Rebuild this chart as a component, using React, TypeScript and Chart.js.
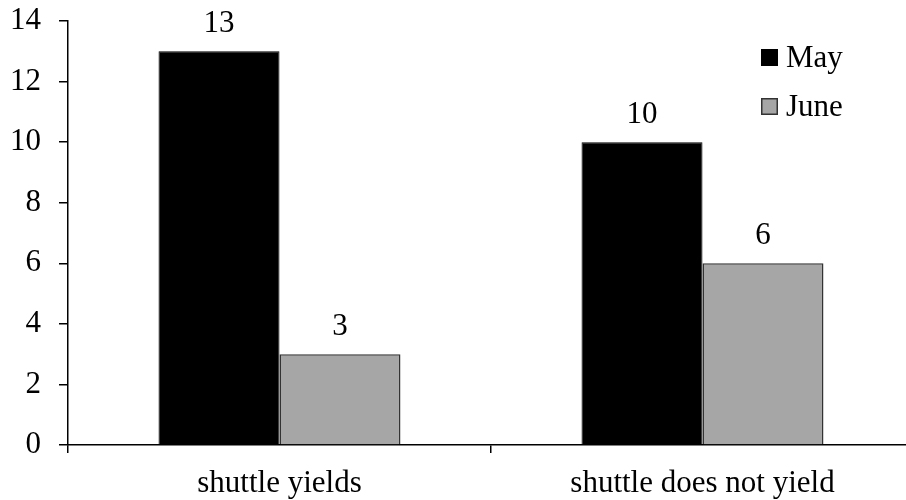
import React, { useEffect, useRef } from "react";
import { Chart, registerables } from "chart.js";

Chart.register(...registerables);

const categories = ["shuttle yields", "shuttle does not yield"];
const seriesNames = ["May", "June"];
const mayValues = [13, 10];
const juneValues = [3, 6];
const yMin = 0;
const yMax = 14;
const yStep = 2;

const FONT = '"Liberation Serif", "Times New Roman", serif';
const FONT_SIZE = 31;

const valueLabels = {
  id: "valueLabels",
  afterDatasetsDraw(chart: any) {
    const ctx = chart.ctx;
    ctx.save();
    ctx.font = `${FONT_SIZE}px ${FONT}`;
    ctx.fillStyle = "#000";
    ctx.textAlign = "center";
    ctx.textBaseline = "alphabetic";
    chart.data.datasets.forEach((ds: any, i: number) => {
      const meta = chart.getDatasetMeta(i);
      meta.data.forEach((el: any, j: number) => {
        ctx.fillText(String(ds.data[j]), el.x, el.y - 19);
      });
    });
    ctx.restore();
  },
};

const insideLegend = {
  id: "insideLegend",
  afterDraw(chart: any) {
    const ctx = chart.ctx;
    const boxX = 761;
    const boxY0 = 49;
    const box = 17;
    const gap = 49;
    ctx.save();
    ctx.font = `${FONT_SIZE}px ${FONT}`;
    ctx.textAlign = "left";
    ctx.textBaseline = "middle";
    chart.data.datasets.forEach((ds: any, i: number) => {
      const y = boxY0 + i * gap;
      ctx.fillStyle = ds.backgroundColor;
      ctx.fillRect(boxX, y, box, box);
      ctx.lineWidth = 1.5;
      ctx.strokeStyle = ds.borderColor;
      ctx.strokeRect(boxX + 0.75, y + 0.75, box - 1.5, box - 1.5);
      ctx.fillStyle = "#000";
      ctx.fillText(ds.label, boxX + 25, y + box / 2 + 1);
    });
    ctx.restore();
  },
};

export default function App() {
  const ref = useRef<HTMLCanvasElement | null>(null);

  useEffect(() => {
    document.body.style.margin = "0";
    document.body.style.overflow = "hidden";
    if (!ref.current) return;
    const chart = new Chart(ref.current, {
      type: "bar",
      data: {
        labels: categories,
        datasets: [
          {
            label: seriesNames[0],
            data: mayValues,
            backgroundColor: "#000000",
            borderColor: "#000000",
            borderWidth: 1,
          },
          {
            label: seriesNames[1],
            data: juneValues,
            backgroundColor: "#a6a6a6",
            borderColor: "#333333",
            borderWidth: 1.5,
          },
        ],
      },
      options: {
        responsive: false,
        animation: false,
        devicePixelRatio: 1,
        layout: { padding: { top: 21, right: 16, bottom: 0, left: 0 } },
        datasets: {
          bar: { categoryPercentage: 0.572, barPercentage: 1 },
        },
        plugins: {
          legend: { display: false },
          tooltip: { enabled: false },
        },
        scales: {
          x: {
            offset: true,
            afterFit(scale: any) {
              scale.height = 55;
              scale.paddingLeft = 0;
              scale.paddingRight = 0;
            },
            grid: {
              offset: true,
              drawOnChartArea: false,
              drawTicks: true,
              tickLength: 8,
              color: "#000",
              lineWidth: 1.5,
            },
            border: { display: true, color: "#000", width: 1.5 },
            ticks: {
              color: "#000",
              padding: 12,
              font: { family: FONT, size: FONT_SIZE },
              maxRotation: 0,
            },
          },
          y: {
            min: yMin,
            max: yMax,
            afterFit(scale: any) {
              scale.width = 68;
              scale.paddingTop = 0;
              scale.paddingBottom = 0;
            },
            grid: {
              drawOnChartArea: false,
              drawTicks: true,
              tickLength: 9,
              color: "#000",
              lineWidth: 1.5,
            },
            border: { display: true, color: "#000", width: 1.5 },
            ticks: {
              stepSize: yStep,
              color: "#000",
              padding: 18,
              font: { family: FONT, size: FONT_SIZE },
            },
          },
        },
      },
      plugins: [valueLabels, insideLegend],
    });
    return () => chart.destroy();
  }, []);

  return (
    <div style={{ position: "fixed", left: 0, top: 0, width: 930, height: 500, background: "#fff" }}>
      <canvas ref={ref} width={930} height={500} />
    </div>
  );
}
